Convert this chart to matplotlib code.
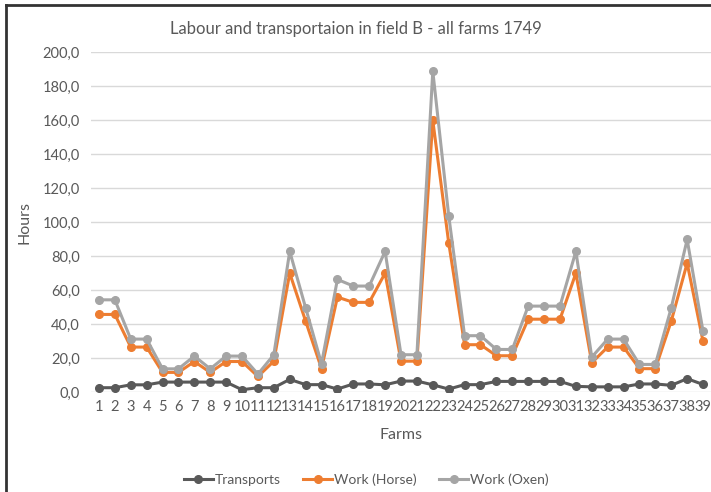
import matplotlib
matplotlib.use("Agg")
import matplotlib.pyplot as plt
from matplotlib.lines import Line2D
import numpy as np

plt.rcParams['font.family'] = ['Lato', 'DejaVu Sans']

farms = [str(i) for i in range(1, 40)]

transports = [2.6, 2.6, 4.3, 4.3, 5.9, 5.9, 5.9, 5.9, 5.9, 1.4,
              2.6, 2.6, 7.5, 4.4, 4.4, 1.8, 4.8, 4.8, 4.3, 6.5,
              6.5, 4.3, 1.8, 4.4, 4.4, 6.3, 6.3, 6.3, 6.3, 6.3,
              3.4, 3.1, 3.1, 3.1, 4.8, 4.8, 4.0, 7.9, 4.5]

work_horse = [45.7, 45.7, 26.5, 26.5, 11.6, 11.6, 18.0, 11.6, 18.0, 18.0,
              9.2, 18.2, 70.0, 41.8, 13.8, 55.9, 52.8, 52.8, 70.0, 18.2,
              18.2, 159.8, 87.9, 27.9, 27.9, 21.4, 21.4, 42.9, 42.9, 42.9,
              70.0, 17.3, 26.5, 26.5, 13.8, 13.8, 41.8, 75.9, 29.8]

work_oxen = [54.3, 54.3, 31.2, 31.2, 13.7, 13.7, 21.2, 13.7, 21.2, 21.2,
             10.6, 22.0, 82.8, 49.6, 16.7, 66.3, 62.4, 62.4, 82.8, 22.0,
             22.0, 188.8, 103.9, 33.2, 33.2, 25.1, 25.1, 50.6, 50.6, 50.6,
             82.8, 20.6, 31.2, 31.2, 16.3, 16.3, 49.6, 89.8, 35.7]

series = [
    ("Transports", transports, "#595959"),
    ("Work (Horse)", work_horse, "#ED7D31"),
    ("Work (Oxen)", work_oxen, "#A5A5A5"),
]

fig = plt.figure(figsize=(7.11, 4.92), dpi=100)
ax = fig.add_axes([0.128, 0.203, 0.872, 0.691])

x = np.arange(len(farms))
for name, vals, col in series:
    ax.plot(x, vals, color=col, lw=2.2, marker='o', ms=5.5, label=name,
            solid_joinstyle='round')

ax.set_xlim(-0.5, len(farms) - 0.5)
ax.set_ylim(0, 200)
ax.set_yticks(np.arange(0, 201, 20))
ax.set_yticklabels([f"{v:.1f}".replace('.', ',') for v in np.arange(0, 201, 20)],
                   fontsize=10.5, color='#595959')
ax.set_xticks(x)
ax.set_xticklabels(farms, fontsize=10.5, color='#595959')
ax.tick_params(length=0, pad=6)
ax.tick_params(axis='y', pad=8)
ax.grid(axis='y', color='#D9D9D9', lw=1)
ax.set_axisbelow(True)
for s in ax.spines.values():
    s.set_visible(False)

ax.set_ylabel("Hours", fontsize=11.5, color='#595959', labelpad=8)
ax.set_xlabel("Farms", fontsize=11.5, color='#595959', labelpad=10)
fig.text(0.5, 0.942, "Labour and transportaion in field B - all farms 1749",
         ha='center', va='center', fontsize=12, color='#595959')

ax.legend(loc='center', bbox_to_anchor=(0.444, -0.258), ncol=3, frameon=False,
          fontsize=10, labelcolor='#595959', handlelength=2.1,
          columnspacing=1.6, handletextpad=0.15)

# frame lines on left and top of the image
fig.add_artist(Line2D([0.009, 0.009], [0, 0.99], color='#333333', lw=2,
                      transform=fig.transFigure))
fig.add_artist(Line2D([0.008, 1.0], [0.99, 0.99], color='#333333', lw=2,
                      transform=fig.transFigure))

fig.savefig("out.png", dpi=100)
